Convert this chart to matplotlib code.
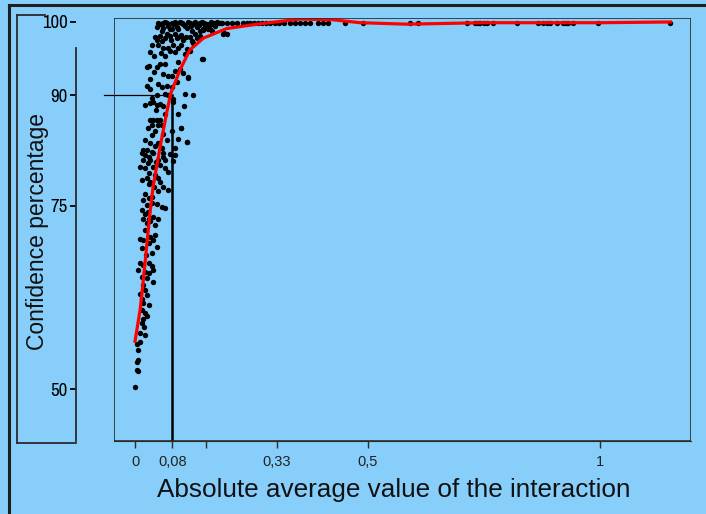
import matplotlib
matplotlib.use('Agg')
import matplotlib.pyplot as plt
from matplotlib.lines import Line2D

# scatter: absolute average interaction value vs confidence (%)
conf_x = [
    # top band, dense part
    0.047, 0.065, 0.072, 0.082, 0.090, 0.097, 0.108, 0.115, 0.125, 0.133,
    0.143, 0.151, 0.158, 0.168, 0.176, 0.057, 0.079, 0.122, 0.140, 0.165,
    0.054, 0.086, 0.104, 0.129, 0.161, 0.147, 0.060, 0.100, 0.137, 0.170,
    0.050, 0.061, 0.068, 0.075, 0.079, 0.088, 0.093, 0.101, 0.111, 0.118,
    0.120, 0.127, 0.136, 0.139, 0.149, 0.154, 0.163, 0.172, 0.180, 0.185,
    0.047, 0.058, 0.068, 0.078, 0.090, 0.099, 0.110, 0.122, 0.134,
    0.040, 0.056, 0.076, 0.098, 0.108,
    0.043, 0.054, 0.065, 0.075, 0.086, 0.093, 0.104, 0.118, 0.129, 0.140,
    0.050, 0.061, 0.072, 0.082, 0.093, 0.104, 0.111, 0.125, 0.036,
    0.032, 0.065, 0.086, 0.118, 0.147,
    0.025, 0.029, 0.047, 0.054, 0.065, 0.093, 0.097, 0.079, 0.072, 0.104,
    0.115, 0.032, 0.040, 0.060, 0.086,
    0.025, 0.032, 0.050, 0.057, 0.068, 0.079, 0.090,
    0.036, 0.047, 0.065, 0.072, 0.082, 0.108, 0.125,
    0.145, 0.191, 0.112, 0.099, 0.115,
    # 76 - 89
    0.022, 0.032, 0.039, 0.047, 0.054, 0.061, 0.082, 0.106, 0.093,
    0.032, 0.039, 0.047, 0.054, 0.036, 0.050, 0.057, 0.099, 0.079, 0.043,
    0.036, 0.022, 0.032, 0.050, 0.068, 0.092, 0.111,
    0.018, 0.025, 0.036, 0.014, 0.022, 0.029, 0.039, 0.057, 0.061, 0.086,
    0.085, 0.018, 0.032, 0.050, 0.061, 0.065, 0.082,
    0.011, 0.022, 0.039, 0.054, 0.065, 0.029, 0.043, 0.025, 0.032, 0.050,
    0.054, 0.072, 0.014, 0.061, 0.022, 0.036, 0.072,
    0.045, 0.065, 0.028, 0.060, 0.044, 0.075, 0.027, 0.046, 0.040, 0.030,
    0.050,
    # 63 - 76
    0.018, 0.029, 0.025, 0.036, 0.047, 0.057, 0.065, 0.014, 0.022, 0.018,
    0.029, 0.039, 0.050, 0.025, 0.043, 0.011, 0.018, 0.032, 0.043, 0.039,
    0.047, 0.014, 0.036, 0.011, 0.018, 0.029, 0.036, 0.007, 0.022, 0.039,
    0.014, 0.025, 0.039, 0.018, 0.022,
    0.027, 0.033, 0.021, 0.030, 0.024, 0.031,
    # below 63
    0.011, 0.025, 0.018, 0.029, 0.014, 0.022, 0.025, 0.018, 0.014, 0.011,
    0.022, 0.011, 0.004, 0.007, 0.007, 0.004, 0.004, 0.006, 0.000,
    0.016, 0.020,
    # sparse points along the top
    0.140, 0.155, 0.176, 0.187, 0.198, 0.209, 0.219, 0.232, 0.240, 0.247,
    0.256, 0.265, 0.273, 0.282, 0.290, 0.300, 0.310, 0.320, 0.333, 0.344,
    0.355, 0.365, 0.376, 0.394, 0.404, 0.415, 0.452, 0.490, 0.591, 0.609,
    0.714, 0.731, 0.737, 0.742, 0.750, 0.757, 0.770, 0.822, 0.867, 0.877,
    0.886, 0.892, 0.908, 0.920, 0.926, 0.931, 0.942, 0.996, 1.151,
    0.146, 0.161, 0.189, 0.198,
]
conf_y = [
    99.3, 100.0, 99.5, 99.7, 99.3, 100.0, 99.5, 100.0, 99.7, 99.3,
    100.0, 99.5, 99.0, 99.7, 100.0, 98.8, 99.0, 98.8, 98.8, 98.8,
    99.7, 100.0, 99.7, 100.0, 99.7, 99.0, 99.9, 99.8, 99.6, 99.9,
    99.9, 99.2, 99.8, 99.1, 99.9, 99.6, 99.1, 99.9, 99.2, 99.8,
    99.4, 99.9, 99.6, 99.9, 99.8, 99.2, 100.0, 99.4, 99.8, 99.9,
    97.6, 97.4, 98.3, 97.6, 97.8, 98.2, 98.0, 97.4, 97.8,
    95.4, 95.8, 96.0, 96.9, 95.6,
    97.9, 98.1, 97.8, 98.1, 98.4, 97.9, 97.7, 97.9, 98.4, 98.1,
    96.8, 96.5, 96.5, 96.8, 96.5, 97.5, 96.3, 97.2, 96.8,
    95.9, 95.4, 95.9, 96.1, 95.0,
    93.8, 94.0, 93.8, 94.3, 94.3, 94.5, 93.6, 92.7, 92.7, 93.1,
    92.5, 92.2, 93.2, 92.9, 93.3,
    91.3, 90.9, 91.5, 91.1, 91.3, 91.1, 91.8,
    89.7, 90.0, 90.2, 90.0, 89.5, 90.2, 90.0,
    95.0, 98.5, 83.7, 85.6, 92.4,
    88.7, 88.9, 89.1, 88.7, 88.8, 88.5, 89.1, 88.6, 87.5,
    86.7, 86.6, 86.6, 86.7, 86.0, 86.0, 86.0, 85.6, 85.2, 85.2,
    84.6, 83.9, 83.5, 83.5, 83.9, 84.0, 83.7,
    82.6, 82.6, 82.3, 82.1, 81.9, 81.6, 82.1, 82.8, 82.2, 82.8,
    81.9, 81.2, 81.2, 81.2, 81.6, 81.2, 81.0,
    80.3, 80.1, 80.3, 80.5, 80.1, 79.4, 79.1, 78.7, 78.2, 78.8,
    78.2, 79.5, 78.5, 77.5, 76.6, 76.2, 77.1,
    88.0, 87.4, 85.5, 84.8, 83.1, 82.0, 80.8, 80.9, 77.5, 77.9,
    77.0,
    75.7, 76.0, 75.1, 75.3, 75.2, 74.8, 74.6, 74.4, 73.9, 73.2,
    73.2, 73.5, 73.2, 72.6, 72.3, 70.5, 70.3, 70.7, 71.0, 70.3,
    69.4, 69.2, 68.5, 67.1, 66.9, 67.1, 66.7, 66.2, 66.0, 66.2,
    65.3, 65.1, 64.6, 64.2, 63.5,
    74.1, 72.9, 71.6, 69.9, 68.2, 65.8,
    63.0, 62.8, 61.7, 61.5, 60.8, 60.3, 59.9, 59.6, 59.0, 57.6,
    57.4, 56.4, 56.2, 55.3, 54.0, 53.7, 52.6, 52.4, 50.3,
    62.2, 58.4,
    99.8, 99.7, 99.9, 99.9, 99.9, 99.9, 99.9, 99.9, 99.9, 99.9,
    99.9, 99.9, 99.9, 99.9, 99.9, 99.9, 99.9, 99.9, 99.9, 99.9,
    99.9, 99.9, 99.9, 99.9, 99.9, 99.9, 99.9, 99.9, 99.9, 99.9,
    99.9, 99.9, 99.9, 99.9, 99.9, 99.9, 99.9, 99.9, 99.9, 99.9,
    99.9, 99.9, 99.9, 99.9, 99.9, 99.9, 99.9, 99.9, 99.9,
    98.9, 99.0, 98.4, 98.4,
]

# smoothed fit (red)
fit_x = [0.0, 0.011, 0.018, 0.025, 0.032, 0.039, 0.054, 0.068, 0.077, 0.097,
         0.118, 0.147, 0.197, 0.262, 0.355, 0.426, 0.484, 0.585, 0.75, 1.0, 1.151]
fit_y = [56.5, 60.8, 64.9, 69.4, 73.9, 77.6, 83.0, 87.6, 90.3, 93.5,
         96.2, 97.8, 99.1, 99.7, 100.4, 100.3, 99.9, 99.7, 99.9, 99.9, 100.0]

x_ticks = [0, 0.08, 0.1535, 0.305, 0.5, 1.0]
x_labels = ['0', '0,08', '', '0,33', '0,5', '1']
y_ticks = [50, 75, 90, 100]
y_labels = ['50', '75', '90', '100']

cutoff_x = 0.08
cutoff_y = 90

bg = '#87CEFA'
W, H = 706, 514
sans = ['Liberation Sans', 'DejaVu Sans']

fig = plt.figure(figsize=(W / 100, H / 100), dpi=100, facecolor=bg)
ax = fig.add_axes([114 / W, 1 - 441 / H, (691 - 114) / W, (441 - 17.5) / H])
ax.set_facecolor(bg)

ax.scatter(conf_x, conf_y, s=15, color='black', linewidths=0, zorder=3)
ax.plot(fit_x, fit_y, color='#ff0000', lw=2.3, zorder=4)

ax.set_xlim(-0.0452, 1.1957)
ax.set_ylim(42.92, 100.61)

# cut-off lines at 0,08 / 90 %
ax.plot([-0.0667, cutoff_x], [cutoff_y, cutoff_y], color='black', lw=0.9,
        clip_on=False, zorder=2)
ax.plot([cutoff_x, cutoff_x], [42.92, cutoff_y], color='black', lw=1.8, zorder=2)

# plot frame
frame_col = '#2b2b2b'
ax.add_patch(plt.Rectangle((0, 0), 1, 1, transform=ax.transAxes, fill=False,
                           ec=frame_col, lw=1.2, zorder=5))
for s in ['top', 'right']:
    ax.spines[s].set_visible(False)
ax.spines['bottom'].set_color(frame_col)
ax.spines['left'].set_position(('outward', 38 * 0.72))
ax.spines['left'].set_bounds(42.92, 96.5)
ax.spines['left'].set_color(frame_col)
ax.spines['left'].set_linewidth(1.3)

ax.set_xticks(x_ticks)
ax.set_xticklabels(x_labels, fontsize=10.5, color='#222222', family=sans)
ax.tick_params(axis='x', length=5, width=1, color=frame_col, pad=5)

ax.set_yticks(y_ticks)
ax.set_yticklabels(y_labels, fontsize=13.5, fontweight='bold',
                   family=['Archivo Narrow', 'Liberation Sans', 'DejaVu Sans'])
ax.tick_params(axis='y', length=4, width=1.3, color='black', pad=2)

# box around the y label
box = dict(color=frame_col, lw=1.3, transform=fig.transFigure)
fig.add_artist(Line2D([17 / W, 45 / W], [1 - 15 / H, 1 - 15 / H], **box))
fig.add_artist(Line2D([17 / W, 17 / W], [1 - 15 / H, 1 - 443 / H], **box))
fig.add_artist(Line2D([17 / W, 76 / W], [1 - 443 / H, 1 - 443 / H], **box))

# outer border
border = dict(color='#1e1e1e', lw=2.2, transform=fig.transFigure)
fig.add_artist(Line2D([9 / W, 1.0], [1 - 5 / H, 1 - 5 / H], **border))
fig.add_artist(Line2D([9 / W, 9 / W], [1 - 5 / H, 0.0], **border))

fig.text(38 / W, 1 - 231 / H, 'Confidence percentage', rotation=90,
         ha='center', va='center', fontsize=16.5, color='#111111', family=sans)
fig.text(394 / W, 1 - 490 / H, 'Absolute average value of the interaction',
         ha='center', va='center', fontsize=18.8, color='#111111', family=sans)

fig.savefig('out.png', dpi=100, facecolor=bg)
